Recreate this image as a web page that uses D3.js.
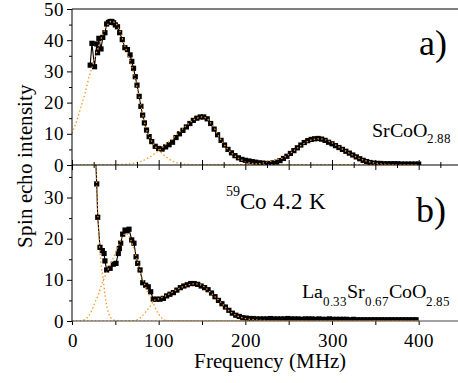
<!DOCTYPE html>
<html><head><meta charset="utf-8">
<script src="https://cdn.jsdelivr.net/npm/d3@7"></script>
<style>
@font-face { font-family: "ChartSerif"; src: local("Liberation Serif"), local("LiberationSerif"), local("LiberationSerif-Regular"), local("Times New Roman"); }
text, tspan { font-family: "ChartSerif", "Liberation Serif", "Times New Roman", serif !important; }
</style>
</head><body style="margin:0">
<svg id="chart" width="458" height="383"></svg>
<script>
// ---------- DATA ----------
// Panel a) SrCoO2.88
const freqA = [21,23,26,28.5,29.5,31,33.5,35.5,38,40,42,44,46,48,50,52.5,55,58,61,64,67,69,71,73,75,77.5,79.5,81.5,83.5,86,89,92,96,
  100,104,108,112,116,120,124,128,132,136,140,144,148,152,156,160,164,168,172,176,180,184,188,192,196,200,204,208,212,216,220,224,228,232,236,240,244,248,252,256,260,264,268,272,276,280,284,288,292,296,300,304,308,312,316,320,324,328,332,336,340,344,348,352,356,360,364,368,372,376,380,384,388,392,396,400];
const echoA = [32,39,31.5,38.8,36,40.6,37.2,40.9,42.4,45.2,45.7,46,46,45.6,44.9,44.3,42.4,40.2,37.6,37,35.3,33.2,31,28.3,25.6,22,18.8,16,13.5,11.2,9.1,7.5,6,
  5.3,5.1,5.8,6.5,7.3,8.8,10,11.1,12.2,13.3,14.3,15,15.4,15.4,14.8,13.3,11.5,9.7,7.9,6.4,5,3.9,3,2.3,1.8,1.5,1.3,1.1,0.9,0.7,0.6,0.5,0.5,0.7,0.9,1.4,2.1,2.8,3.7,4.6,5.5,6.4,7.2,7.8,8.2,8.4,8.5,8.3,7.9,7.3,6.8,6.2,5.6,5,4.4,3.8,3.2,2.6,2,1.5,1.1,0.8,0.6,0.5,0.5,0.4,0.4,0.4,0.4,0.4,0.3,0.3,0.3,0.3,0.3,0.3];
// fitted components, panel a)
const fitA1f = [0,5,10,15,20,25,30,35,40,45,50,55,60,65,70,75,80,85,90,95,100,105,110,115,120,125,130,140,150,200,300,400];
const fitA1v = [10.2,13.8,18.3,23,28.5,33,37.5,41.5,44.5,46,45.5,43,39,35,30.5,25,18.5,12.2,8.6,6.3,4.8,3.4,2.3,1.4,0.8,0.45,0.25,0.05,0,0,0,0];
const fitA2f = [0,40,60,70,80,90,100,110,120,130,140,150,155,160,165,170,175,180,185,190,195,200,210,220,230,260,400];
const fitA2v = [0,0,0.2,0.5,1.2,2.6,4.6,7,9.5,12.2,14.4,15.4,15,13.5,11.4,8.9,6.8,5,3.6,2.5,1.7,1.1,0.45,0.15,0.05,0,0];
const fitA3f = [150,200,215,225,235,245,255,265,275,285,295,305,315,325,335,345,355,370,400];
const fitA3v = [0,0.1,0.4,0.9,1.6,2.5,4.4,6.4,7.9,8.4,7.8,6.3,4.6,3,1.7,0.9,0.4,0.1,0];

// Panel b) La0.33Sr0.67CoO2.85
const freqB = [26.8,28.5,29.7,32.3,35,37,38,40,44,47.7,50.8,53.4,54.6,56.2,58.5,61.2,63.1,65.8,68.9,71.5,73.9,75.8,78.5,81.6,85,88,90.8,93.8,97.7,101.5,105.4,109.2,
  113,117,121,125,129,133,137,141,145,149,153,157,161,165,169,173,177,181,185,189,193,197,201,205,
  209,213,217,221,225,229,233,237,241,245,249,253,257,261,265,269,273,277,281,285,289,293,297,301,305,309,313,317,321,325,329,333,337,341,345,349,353,357,361,365,369,373,377,381,385,389,393,397];
const echoB = [42,33.3,25.2,17.9,17.1,16.4,14.6,12.4,12.8,13.8,14,16.4,17.6,18.9,21.1,22.1,21.9,22.3,19.7,18.9,15.6,14,12.4,9.3,8.7,8.3,7.1,5.3,5.3,5.3,5.5,6.1,
  6.5,6.9,7.5,8.1,8.5,8.8,9.1,9.1,8.9,8.5,8.1,7.6,6.8,5.9,5,4.2,3.4,2.6,1.9,1.4,1.1,0.8,0.7,0.6,
  0.6,0.5,0.5,0.5,0.5,0.6,0.5,0.5,0.5,0.5,0.6,0.5,0.5,0.5,0.4,0.5,0.5,0.5,0.4,0.5,0.4,0.4,0.5,0.4,0.4,0.4,0.4,0.4,0.3,0.4,0.3,0.3,0.3,0.3,0.3,0.3,0.3,0.3,0.3,0.3,0.3,0.3,0.3,0.3,0.3,0.3,0.3,0.3];
const fitB1f = [26,27,28.5,30,31,32,33,34,35,36,38,40,42,44,46,50,55,100,400];
const fitB1v = [44,40,33,25,21,17.5,15,13,11.5,10,6.5,3.8,2,1,0.5,0.1,0,0,0];
const fitB2f = [0,10,17,22,26.5,30,34,38,44,50,55,60,62,65,70,75,80,85,90,95,98,102,106,112,120,400];
const fitB2v = [0,0.1,0.7,2.2,4.5,6.2,8.7,10.8,13.6,16.5,19,21,21.3,20.8,18.5,14.8,11.2,8.2,5.9,3.7,2.3,1.1,0.3,0.05,0,0];
const fitB3f = [0,60,70,75,80,85,90,95,100,110,120,130,140,145,150,155,160,165,170,175,180,185,190,195,200,210,220,240,260,400];
const fitB3v = [0,0,0.1,0.3,1,2.2,3.5,5,5.4,6.3,7.5,8.5,9,9,8.6,7.9,6.9,5.9,4.9,3.8,2.7,1.9,1.3,0.9,0.6,0.3,0.15,0.05,0,0];

const yTicksA = [0,10,20,30,40,50];
const yTicksB = [0,10,20,30];
const xTickLabels = [0,100,200,300,400];

// ---------- LAYOUT ----------
const FONT = "Liberation Serif";
const svg = d3.select("#chart");
const W = 458;
const x = d3.scaleLinear().domain([0,450]).range([72, 462]);
const yA = d3.scaleLinear().domain([0,50]).range([165, 9]);
const yB = d3.scaleLinear().domain([0,37.9]).range([321, 165]);
const orange = "#f7931e";

const defs = svg.append("defs");
defs.append("clipPath").attr("id","clipA").append("rect").attr("x",72).attr("y",9).attr("width",W-72).attr("height",156);
defs.append("clipPath").attr("id","clipB").append("rect").attr("x",72).attr("y",165).attr("width",W-72).attr("height",156);

function zip(f,v){ return f.map((d,i)=>({f:d,v:v[i]})); }

function drawPanel(y, clip, freq, echo, fits){
  const g = svg.append("g").attr("clip-path",`url(#${clip})`);
  const line = d3.line().x(d=>x(d.f)).y(d=>y(d.v));
  const pts = zip(freq, echo);
  g.append("path").datum(pts).attr("d", line).attr("fill","none").attr("stroke","#000").attr("stroke-width",1.1);
  g.selectAll("rect.pt").data(pts).enter().append("rect").attr("class","pt")
    .attr("x",d=>x(d.f)-2.6).attr("y",d=>y(d.v)-2.6).attr("width",5.2).attr("height",5.2).attr("fill","#000");
  const fl = d3.line().x(d=>x(d.f)).y(d=>y(d.v)).curve(d3.curveMonotoneX);
  fits.forEach(([ff,fv])=>{
    g.append("path").datum(zip(ff,fv)).attr("d", fl).attr("fill","none")
      .attr("stroke",orange).attr("stroke-width",1.3).attr("stroke-dasharray","1.4,2.4");
  });
}

drawPanel(yA, "clipA", freqA, echoA, [[fitA1f,fitA1v],[fitA2f,fitA2v],[fitA3f,fitA3v]]);
drawPanel(yB, "clipB", freqB, echoB, [[fitB1f,fitB1v],[fitB2f,fitB2v],[fitB3f,fitB3v]]);

// ---------- AXES ----------
function style(g){ g.select(".domain").remove(); g.selectAll("line").attr("stroke","#000");
  g.attr("font-family",FONT).attr("font-size",19);
  g.selectAll("text").attr("font-family",FONT).attr("font-size",19).attr("fill","#000"); }
const fmt = d3.format("d");
svg.append("g").attr("transform","translate(72,0)")
  .call(d3.axisLeft(yA).tickValues(yTicksA).tickSize(5).tickPadding(3).tickFormat(fmt)).call(style);
svg.append("g").attr("transform","translate(72,0)")
  .call(d3.axisLeft(yA).tickValues([5,15,25,35,45]).tickSize(3).tickFormat("")).call(style);
svg.append("g").attr("transform","translate(72,0)")
  .call(d3.axisLeft(yB).tickValues(yTicksB).tickSize(5).tickPadding(3).tickFormat(fmt)).call(style);
svg.append("g").attr("transform","translate(72,0)")
  .call(d3.axisLeft(yB).tickValues([5,15,25,35]).tickSize(3).tickFormat("")).call(style);

const x50 = d3.range(0,451,50), x25 = d3.range(25,451,50);
svg.append("g").attr("transform","translate(0,165)").call(d3.axisTop(x).tickValues(x50).tickSize(5).tickFormat("")).call(style);
svg.append("g").attr("transform","translate(0,165)").call(d3.axisTop(x).tickValues(x25).tickSize(3).tickFormat("")).call(style);
svg.append("g").attr("transform","translate(0,165)").call(d3.axisBottom(x).tickValues(x50).tickSize(5).tickFormat("")).call(style);
svg.append("g").attr("transform","translate(0,165)").call(d3.axisBottom(x).tickValues(x25).tickSize(3).tickFormat("")).call(style);
svg.append("g").attr("transform","translate(0,321)")
  .call(d3.axisBottom(x).tickValues(x50).tickSize(4).tickPadding(8.5).tickFormat(d=>xTickLabels.includes(d)?fmt(d):"")).call(style);

const frame = svg.append("g").attr("stroke","#000").attr("stroke-width",1);
frame.append("line").attr("x1",72).attr("x2",72).attr("y1",9).attr("y2",321);
frame.append("line").attr("x1",72).attr("x2",W).attr("y1",9).attr("y2",9);
frame.append("line").attr("x1",72).attr("x2",W).attr("y1",165).attr("y2",165);
frame.append("line").attr("x1",72).attr("x2",W).attr("y1",321).attr("y2",321).attr("stroke","#444");

// ---------- TEXT ----------
function T(size){ return svg.append("text").attr("font-family",FONT).attr("font-size",size).attr("fill","#000"); }
T(21).attr("x",270).attr("y",368).attr("text-anchor","middle").text("Frequency (MHz)");
T(21).attr("transform","translate(32,166) rotate(-90)").attr("text-anchor","middle").text("Spin echo intensity");

T(36).attr("x",419).attr("y",55).text("a)");
T(36).attr("x",416).attr("y",222).text("b)");

const tA = T(20).attr("x",451).attr("y",137).attr("text-anchor","end");
tA.append("tspan").text("SrCoO");
tA.append("tspan").attr("dy",6).attr("font-size",12.5).text("2.88");

const tB = T(20).attr("x",450).attr("y",298).attr("text-anchor","end");
tB.append("tspan").text("La");
tB.append("tspan").attr("dy",8).attr("font-size",12.5).text("0.33");
tB.append("tspan").attr("dy",-8).text("Sr");
tB.append("tspan").attr("dy",8).attr("font-size",12.5).text("0.67");
tB.append("tspan").attr("dy",-8).text("CoO");
tB.append("tspan").attr("dy",8).attr("font-size",12.5).text("2.85");

const tC = T(23).attr("x",226).attr("y",209);
tC.append("tspan").attr("dy",-13).attr("font-size",14).text("59");
tC.append("tspan").attr("dy",13).text("Co 4.2 K");
</script>
</body></html>
